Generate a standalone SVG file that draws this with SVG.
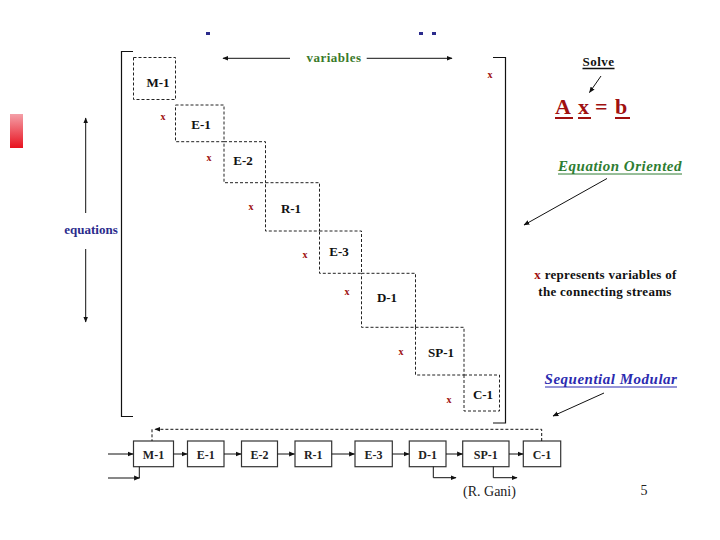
<svg xmlns="http://www.w3.org/2000/svg" width="720" height="540" viewBox="0 0 720 540" font-family="'Liberation Serif', 'DejaVu Serif', serif">
<defs>
<marker id="ah" viewBox="0 0 10 10" refX="9" refY="5" markerWidth="6" markerHeight="6" orient="auto" markerUnits="userSpaceOnUse">
<path d="M0,1 L10,5 L0,9 z" fill="#111"/>
</marker>
<linearGradient id="red" x1="0" y1="0" x2="0" y2="1">
<stop offset="0" stop-color="#f4a0a8"/>
<stop offset="1" stop-color="#e8121f"/>
</linearGradient>
<style>
text{font-family:'Liberation Serif','DejaVu Serif',serif;}
.blk{fill:none;stroke:#111;stroke-width:1.2;}
.dbox{fill:none;stroke:#222;stroke-width:1;stroke-dasharray:3,2;}
.lbl{font-size:13px;font-weight:bold;fill:#111;text-anchor:middle;}
.x{font-size:10px;font-weight:bold;fill:#a01010;text-anchor:middle;}
.ln{fill:none;stroke:#111;stroke-width:1;}
.box{fill:#fff;stroke:#333;stroke-width:1.2;}
.blbl{font-size:12px;font-weight:bold;fill:#222;text-anchor:middle;}
.und{stroke-width:1.3;}
</style>
</defs>
<rect width="720" height="540" fill="#fff"/>
<rect x="10" y="114" width="13" height="34" fill="url(#red)"/>
<rect x="206" y="32" width="4" height="3" fill="#2b2b8c"/>
<rect x="419" y="32" width="4" height="3" fill="#2b2b8c"/>
<rect x="432" y="32" width="4" height="3" fill="#2b2b8c"/>

<g id="matrix-bracket">
<path class="blk" d="M133,51.5 H121.5 V416.5 H133"/>
<path class="blk" d="M493,57.5 H505.5 V423 H493"/>
</g>

<g id="variables">
<text x="334" y="62" font-size="13" font-weight="bold" fill="#3a7a2a" text-anchor="middle" letter-spacing="0.5">variables</text>
</g>
<g id="equations">
<text x="91" y="234" font-size="13" font-weight="bold" fill="#2b2b8c" text-anchor="middle">equations</text>
</g>

<g id="M-1m"><rect class="dbox" x="133.5" y="57.5" width="42" height="42"/><text class="lbl" x="158" y="87">M-1</text></g>
<g id="E-1m"><rect class="dbox" x="175.5" y="105" width="48.5" height="36.7"/><text class="lbl" x="201" y="129">E-1</text></g>
<g id="E-2m"><rect class="dbox" x="224" y="141.7" width="41.5" height="41"/><text class="lbl" x="243" y="165">E-2</text></g>
<g id="R-1m"><rect class="dbox" x="265.5" y="182.7" width="54" height="48.3"/><text class="lbl" x="291" y="213">R-1</text></g>
<g id="E-3m"><rect class="dbox" x="319.5" y="231" width="42" height="42.3"/><text class="lbl" x="339" y="256">E-3</text></g>
<g id="D-1m"><rect class="dbox" x="361.5" y="273.3" width="54" height="54"/><text class="lbl" x="387" y="302">D-1</text></g>
<g id="SP-1m"><rect class="dbox" x="415.5" y="327.3" width="48.5" height="47.7"/><text class="lbl" x="441" y="357">SP-1</text></g>
<g id="C-1m"><rect class="dbox" x="464" y="375" width="35.5" height="36"/><text class="lbl" x="483" y="399">C-1</text></g>

<g id="xmarks">
<text class="x" x="490" y="78">x</text>
<text class="x" x="163" y="120">x</text>
<text class="x" x="209" y="161">x</text>
<text class="x" x="251" y="210">x</text>
<text class="x" x="305" y="258">x</text>
<text class="x" x="347" y="295">x</text>
<text class="x" x="401" y="355">x</text>
<text class="x" x="449" y="403">x</text>
</g>

<g id="solve">
<text x="598.5" y="66" font-size="13" font-weight="bold" fill="#111" text-anchor="middle" letter-spacing="0.5">Solve</text>
<line x1="582.5" y1="68.5" x2="614.5" y2="68.5" stroke="#111" class="und"/>
</g>
<g id="axb" font-size="22" font-weight="bold" fill="#a01010">
<text x="555" y="114">A</text>
<text x="578" y="114">x</text>
<text x="595" y="114">=</text>
<text x="615" y="114">b</text>
<g stroke="#a01010" stroke-width="2">
<line x1="555" y1="118" x2="573" y2="118"/>
<line x1="578" y1="118" x2="591" y2="118"/>
<line x1="615" y1="118" x2="630" y2="118"/>
</g>
</g>
<g id="eo">
<text x="620" y="171" font-size="15" font-weight="bold" font-style="italic" fill="#2e7d32" text-anchor="middle" letter-spacing="0.5">Equation Oriented</text>
<line x1="558" y1="174" x2="682" y2="174" stroke="#2e7d32" stroke-width="1"/>
</g>
<g id="note" font-size="13" font-weight="bold" fill="#111" text-anchor="middle" letter-spacing="0.3">
<text x="605.5" y="279"><tspan fill="#a01010">x</tspan> represents variables of</text>
<text x="605" y="296">the connecting streams</text>
</g>
<g id="sm">
<text x="611" y="384" font-size="15" font-weight="bold" font-style="italic" fill="#2b2bb0" text-anchor="middle" letter-spacing="0.5">Sequential Modular</text>
<line x1="545" y1="387" x2="677" y2="387" stroke="#2b2bb0" stroke-width="1"/>
</g>

<g id="M-1"><rect class="box" x="133.5" y="441" width="40" height="25.7"/><text class="blbl" x="153.5" y="458.5">M-1</text></g>
<g id="E-1"><rect class="box" x="187.5" y="441" width="36.5" height="25.7"/><text class="blbl" x="205.7" y="458.5">E-1</text></g>
<g id="E-2"><rect class="box" x="241.5" y="441" width="36" height="25.7"/><text class="blbl" x="259.5" y="458.5">E-2</text></g>
<g id="R-1"><rect class="box" x="295" y="441" width="36.7" height="25.7"/><text class="blbl" x="313.3" y="458.5">R-1</text></g>
<g id="E-3"><rect class="box" x="355" y="441" width="37.3" height="25.7"/><text class="blbl" x="373.6" y="458.5">E-3</text></g>
<g id="D-1"><rect class="box" x="409.3" y="441" width="36.7" height="25.7"/><text class="blbl" x="427.6" y="458.5">D-1</text></g>
<g id="SP-1"><rect class="box" x="462.7" y="441" width="46.3" height="25.7"/><text class="blbl" x="485.8" y="458.5">SP-1</text></g>
<g id="C-1"><rect class="box" x="523.3" y="441" width="37.4" height="25.7"/><text class="blbl" x="542" y="458.5">C-1</text></g>

<g id="connectors">
<line class="ln" x1="290" y1="58.3" x2="223" y2="58.3" marker-end="url(#ah)"/>
<line class="ln" x1="366.7" y1="58.3" x2="452" y2="58.3" marker-end="url(#ah)"/>
<line class="ln" x1="85.7" y1="213" x2="85.7" y2="118" marker-end="url(#ah)"/>
<line class="ln" x1="85.7" y1="249" x2="85.7" y2="322" marker-end="url(#ah)"/>
<line class="ln" x1="601" y1="76" x2="589.5" y2="92.5" marker-end="url(#ah)"/>
<line class="ln" x1="607" y1="178.5" x2="524" y2="225" marker-end="url(#ah)"/>
<line class="ln" x1="604" y1="393" x2="553" y2="416" marker-end="url(#ah)"/>
<line class="ln" x1="108" y1="454" x2="133" y2="454" marker-end="url(#ah)"/>
<path class="ln" d="M139.3,466.7 V478"/>
<line class="ln" x1="108" y1="478" x2="139.5" y2="478" marker-end="url(#ah)"/>
<line class="ln" x1="173.5" y1="454" x2="187" y2="454" marker-end="url(#ah)"/>
<line class="ln" x1="224" y1="454" x2="241" y2="454" marker-end="url(#ah)"/>
<line class="ln" x1="277.5" y1="454" x2="294.5" y2="454" marker-end="url(#ah)"/>
<line class="ln" x1="331.7" y1="454" x2="354.5" y2="454" marker-end="url(#ah)"/>
<line class="ln" x1="392.3" y1="454" x2="409" y2="454" marker-end="url(#ah)"/>
<line class="ln" x1="446" y1="454" x2="462.5" y2="454" marker-end="url(#ah)"/>
<line class="ln" x1="509" y1="454" x2="523" y2="454" marker-end="url(#ah)"/>
<path class="ln" d="M433.3,466.7 V477.7 H456" marker-end="url(#ah)"/>
<path class="ln" d="M493.3,466.7 V477.7 H517" marker-end="url(#ah)"/>
<path class="ln" d="M541.7,441 V429.3 H155" stroke-dasharray="3,2" marker-end="url(#ah)"/>
<line class="ln" x1="152" y1="429.3" x2="152" y2="441" stroke-dasharray="3,2"/>
</g>

<text x="489.5" y="496" font-size="14" fill="#222" text-anchor="middle">(R. Gani)</text>
<text x="644" y="495" font-size="14" fill="#222" text-anchor="middle">5</text>
</svg>
